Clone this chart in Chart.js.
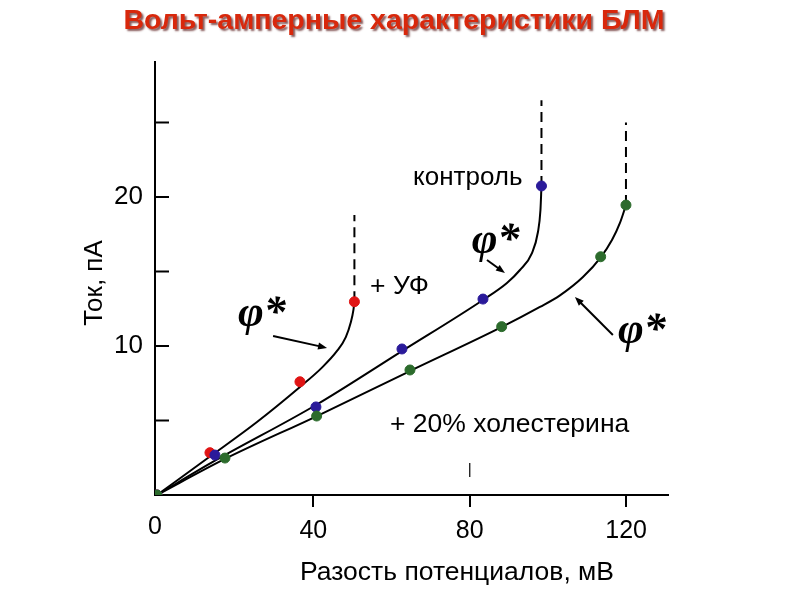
<!DOCTYPE html>
<html><head><meta charset="utf-8">
<script src="https://cdn.jsdelivr.net/npm/chart.js@4.4.1/dist/chart.umd.min.js"></script>
<style>html,body{margin:0;padding:0;background:#fff;}#wrap{width:800px;height:600px;}</style>
</head><body><div id="wrap"><canvas id="c" width="800" height="600"></canvas></div>
<script>
const chartTitle = 'Вольт-амперные характеристики БЛМ';
const xTitle = 'Разость потенциалов, мВ';
const yTitle = 'Ток, пА';
const xTickValues = [0, 40, 80, 120];
const yTickValues = [5, 10, 15, 20, 25];
const yLabeledTicks = [10, 20];

// + УФ (red)
const uvPointsX = [0, 13.55, 36.57, 50.5];
const uvPointsY = [0, 2.84, 7.60, 12.97];
const uvCurveX = [0, 13.55, 25.58, 36.57, 42.2, 46.0, 48.3, 49.6, 50.25, 50.5];
const uvCurveY = [0, 2.58, 4.90, 7.25, 8.55, 9.65, 10.6, 11.61, 12.42, 13.0];
const uvLimitY = 18.8;

// контроль (blue)
const ctrlPointsX = [0, 14.83, 40.66, 62.66, 83.38, 98.34];
const ctrlPointsY = [0, 2.68, 5.91, 9.80, 13.15, 20.74];
const ctrlCurveX = [0, 14.83, 40.66, 62.66, 83.38, 89.51, 92.84, 95.91, 97.44, 98.08, 98.34];
const ctrlCurveY = [0, 2.30, 6.04, 9.66, 13.09, 14.23, 15.10, 16.24, 17.65, 19.13, 20.74];
const ctrlLimitY = 26.5;

// + 20% холестерина (green)
const cholPointsX = [0, 17.39, 40.84, 64.71, 88.16, 113.48, 119.95];
const cholPointsY = [0, 2.48, 5.30, 8.39, 11.30, 15.99, 19.46];
const cholCurveX = [0, 17.39, 40.92, 64.71, 88.24, 97.95, 103.07, 108.95, 113.55, 116.37, 118.41, 119.95];
const cholCurveY = [0, 2.42, 5.30, 8.32, 11.28, 12.62, 13.40, 14.63, 15.97, 17.11, 18.26, 19.46];
const cholLimitY = 25.0;

const zip = (xs, ys) => xs.map((x, i) => ({x: x, y: ys[i]}));
const last = a => a[a.length - 1];

function curveSet(xs, ys) {
  return {data: zip(xs, ys), showLine: true, borderColor: '#000', borderWidth: 2,
    pointRadius: 0, cubicInterpolationMode: 'monotone', fill: false, order: 2};
}
function limitSet(xs, ys, top) {
  return {data: [{x: last(xs), y: last(ys)}, {x: last(xs), y: top}], showLine: true,
    borderColor: '#000', borderWidth: 2, borderDash: [10, 6], pointRadius: 0, fill: false, order: 2};
}
function pointSet(xs, ys, col) {
  return {data: zip(xs, ys), showLine: false, pointRadius: 5, pointBackgroundColor: col,
    pointBorderColor: col, pointBorderWidth: 1, order: 0};
}

const FONT = '"Liberation Sans", Arial, sans-serif';

const annot = {
  id: 'annot',
  afterDraw(chart) {
    const ctx = chart.ctx, xs = chart.scales.x, ys = chart.scales.y;
    const X = v => xs.getPixelForValue(v), Y = v => ys.getPixelForValue(v);
    ctx.save();
    // chart title with shadow
    ctx.font = 'bold 28.5px ' + FONT;
    ctx.textAlign = 'center'; ctx.textBaseline = 'middle';
    ctx.shadowColor = 'rgba(70,0,0,0.65)'; ctx.shadowOffsetX = 2; ctx.shadowOffsetY = 2; ctx.shadowBlur = 2;
    ctx.fillStyle = '#d8280c';
    ctx.fillText(chartTitle, 394, 21);
    ctx.shadowColor = 'transparent'; ctx.shadowBlur = 0; ctx.shadowOffsetX = 0; ctx.shadowOffsetY = 0;

    ctx.fillStyle = '#000';
    // axis titles
    ctx.font = '26.5px ' + FONT;
    ctx.fillText(xTitle, 457, 573);
    ctx.save();
    ctx.translate(95, 283); ctx.rotate(-Math.PI / 2);
    ctx.font = '26px ' + FONT;
    ctx.fillText(yTitle, 0, 0);
    ctx.restore();
    // "0" label
    ctx.font = '25px ' + FONT;
    ctx.fillText('0', X(0) - 2, 527);

    // inward y ticks
    ctx.strokeStyle = '#000'; ctx.lineWidth = 2;
    const ax = xs.left;
    yTickValues.forEach(v => {
      ctx.beginPath(); ctx.moveTo(ax, Y(v)); ctx.lineTo(ax + 14, Y(v)); ctx.stroke();
    });
    // small stray mark near x=80
    ctx.lineWidth = 1.2;
    ctx.beginPath(); ctx.moveTo(X(80), Y(1.2)); ctx.lineTo(X(80), Y(2.15)); ctx.stroke();

    // text labels
    ctx.textAlign = 'left'; ctx.textBaseline = 'middle';
    ctx.font = '26px ' + FONT;
    ctx.fillText('контроль', X(65.5), Y(21.3));
    ctx.font = '26.5px ' + FONT;
    ctx.fillText('+ УФ', X(54.5), Y(13.95));
    ctx.fillText('+ 20% холестерина', X(59.6), Y(4.75));

    // phi* labels
    ctx.textBaseline = 'alphabetic';
    ctx.font = 'bold italic 44px "Liberation Serif", "Times New Roman", serif';
    ctx.fillText('φ*', X(20.7), Y(11.34));
    ctx.fillText('φ*', X(80.5), Y(16.24));
    ctx.fillText('φ*', X(117.9), Y(10.2));

    // arrows
    function arrow(x1, y1, x2, y2) {
      const p1 = [X(x1), Y(y1)], p2 = [X(x2), Y(y2)];
      const a = Math.atan2(p2[1] - p1[1], p2[0] - p1[0]);
      ctx.lineWidth = 2;
      ctx.beginPath(); ctx.moveTo(p1[0], p1[1]);
      ctx.lineTo(p2[0] - 6 * Math.cos(a), p2[1] - 6 * Math.sin(a)); ctx.stroke();
      ctx.beginPath();
      ctx.moveTo(p2[0], p2[1]);
      ctx.lineTo(p2[0] - 9 * Math.cos(a) + 3.5 * Math.sin(a), p2[1] - 9 * Math.sin(a) - 3.5 * Math.cos(a));
      ctx.lineTo(p2[0] - 9 * Math.cos(a) - 3.5 * Math.sin(a), p2[1] - 9 * Math.sin(a) + 3.5 * Math.cos(a));
      ctx.closePath(); ctx.fill();
    }
    arrow(29.7, 10.67, 43.5, 9.87);
    arrow(84.4, 15.77, 89.0, 14.90);
    arrow(116.6, 10.74, 106.9, 13.29);
    ctx.restore();
  }
};

new Chart(document.getElementById('c'), {
  type: 'scatter',
  data: {
    datasets: [
      pointSet(cholPointsX, cholPointsY, '#2c6b2c'),
      pointSet(ctrlPointsX, ctrlPointsY, '#2a1a9a'),
      pointSet(uvPointsX, uvPointsY, '#e01414'),
      curveSet(uvCurveX, uvCurveY), limitSet(uvCurveX, uvCurveY, uvLimitY),
      curveSet(ctrlCurveX, ctrlCurveY), limitSet(ctrlCurveX, ctrlCurveY, ctrlLimitY),
      curveSet(cholCurveX, cholCurveY), limitSet(cholCurveX, cholCurveY, cholLimitY)
    ]
  },
  options: {
    responsive: false, animation: false, devicePixelRatio: 1,
    layout: {padding: {left: 80, right: 132, top: 62, bottom: 0}},
    plugins: {legend: {display: false}, tooltip: {enabled: false}, title: {display: false}},
    scales: {
      x: {
        type: 'linear', position: 'bottom', min: -0.5, max: 130.7,
        afterBuildTicks: s => { s.ticks = xTickValues.map(v => ({value: v})); },
        afterFit: s => { s.height = 105; },
        ticks: {callback: v => (v === 0 ? '' : String(v)), color: '#000', font: {family: FONT, size: 25}, padding: 9, maxRotation: 0},
        grid: {drawOnChartArea: false, drawTicks: true, tickLength: 12, lineWidth: 2,
          color: c => (c.tick && c.tick.value === 0 ? 'rgba(0,0,0,0)' : '#000')},
        border: {display: true, color: '#000', width: 2}
      },
      y: {
        type: 'linear', min: 0, max: 29.06,
        afterBuildTicks: s => { s.ticks = yTickValues.map(v => ({value: v})); },
        afterFit: s => { s.width = 75; },
        ticks: {callback: v => (yLabeledTicks.includes(v) ? String(v) : ''), color: '#000', font: {family: FONT, size: 26}, padding: 12},
        grid: {drawOnChartArea: false, drawTicks: false},
        border: {display: true, color: '#000', width: 2}
      }
    }
  },
  plugins: [annot]
});
</script></body></html>
